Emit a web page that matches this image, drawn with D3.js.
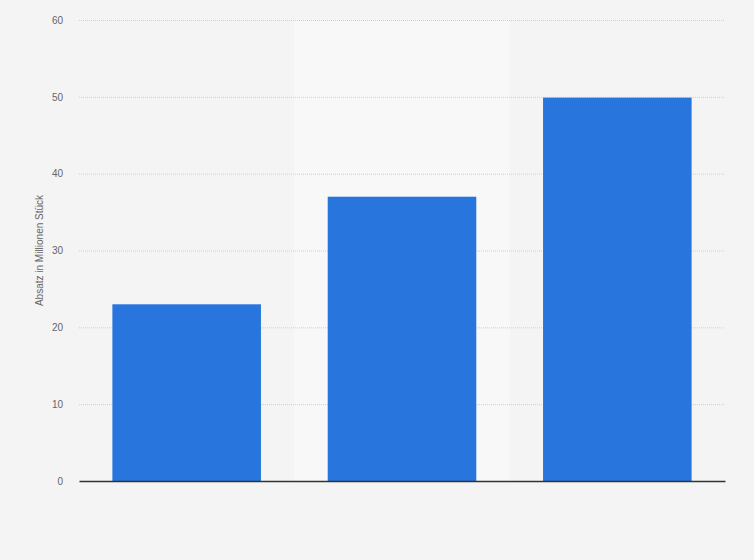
<!DOCTYPE html>
<html>
<head>
<meta charset="utf-8">
<script src="https://cdn.jsdelivr.net/npm/d3@7"></script>
<style>
  body { margin: 0; background: #f4f4f4; }
  svg { display: block; font-family: "Liberation Sans", Arial, sans-serif; }
</style>
</head>
<body>
<div id="chart"></div>
<script>

// data
var categories = ["Kategorie 1", "Kategorie 2", "Kategorie 3"];
var values = [23, 37, 49.9];
var yTicks = [0, 10, 20, 30, 40, 50, 60];
var yLabel = "Absatz in Millionen Stück";

var width = 754, height = 560;
var margin = {top: 20, right: 29, bottom: 79, left: 79};
var plotW = width - margin.left - margin.right;
var plotH = height - margin.top - margin.bottom;

var svg = d3.select("#chart").append("svg")
    .attr("width", width)
    .attr("height", height);

svg.append("rect")
    .attr("width", width)
    .attr("height", height)
    .attr("fill", "#f4f4f4");

var g = svg.append("g")
    .attr("transform", "translate(" + margin.left + "," + margin.top + ")");

var x = d3.scaleBand()
    .domain(categories)
    .range([0, plotW])
    .paddingInner(0.31)
    .paddingOuter(0.155);

var y = d3.scaleLinear()
    .domain([0, 60])
    .range([plotH, 0]);

//alternating column shading
var step = x.step();
g.selectAll(".band")
    .data(categories.filter(function(d, i){ return i % 2 === 1; }))
    .enter().append("rect")
    .attr("x", function(d){ return x(d) - x.paddingInner() * step / 2; })
    .attr("y", 0)
    .attr("width", step)
    .attr("height", plotH)
    .attr("fill", "#f8f8f8");

//gridlines
g.append("g")
    .attr("class", "grid")
    .call(d3.axisLeft(y)
        .tickValues(yTicks.filter(function(d){ return d > 0; }))
        .tickSize(-plotW)
        .tickFormat(""))
    .call(function(sel){
        sel.select(".domain").remove();
        sel.selectAll("line")
            .attr("stroke", "#cfcfcf")
            .attr("stroke-dasharray", "1,1");
    });

//bars
g.selectAll(".bar")
    .data(values)
    .enter().append("rect")
    .attr("class", "bar")
    .attr("x", function(d, i){ return x(categories[i]); })
    .attr("y", function(d){ return y(d); })
    .attr("width", x.bandwidth())
    .attr("height", function(d){ return plotH - y(d); })
    .attr("fill", "#2876dd");

//y axis labels
var yAxis = g.append("g")
    .call(d3.axisLeft(y).tickValues(yTicks).tickSize(0).tickPadding(16));
yAxis.select(".domain").remove();
yAxis.selectAll("text")
    .attr("fill", "#666")
    .style("font-size", "10px");

//baseline
var xAxis = g.append("g")
    .attr("transform", "translate(0," + plotH + ")")
    .call(d3.axisBottom(x).tickSize(0).tickFormat(""));
xAxis.select(".domain")
    .attr("stroke", "#333")
    .attr("stroke-width", 1.4);

//y label
svg.append("text")
    .attr("transform", "rotate(-90)")
    .attr("x", -(margin.top + plotH / 2))
    .attr("y", 43)
    .style("text-anchor", "middle")
    .style("font-size", "10px")
    .attr("fill", "#666")
    .text(yLabel);

</script>
</body>
</html>
